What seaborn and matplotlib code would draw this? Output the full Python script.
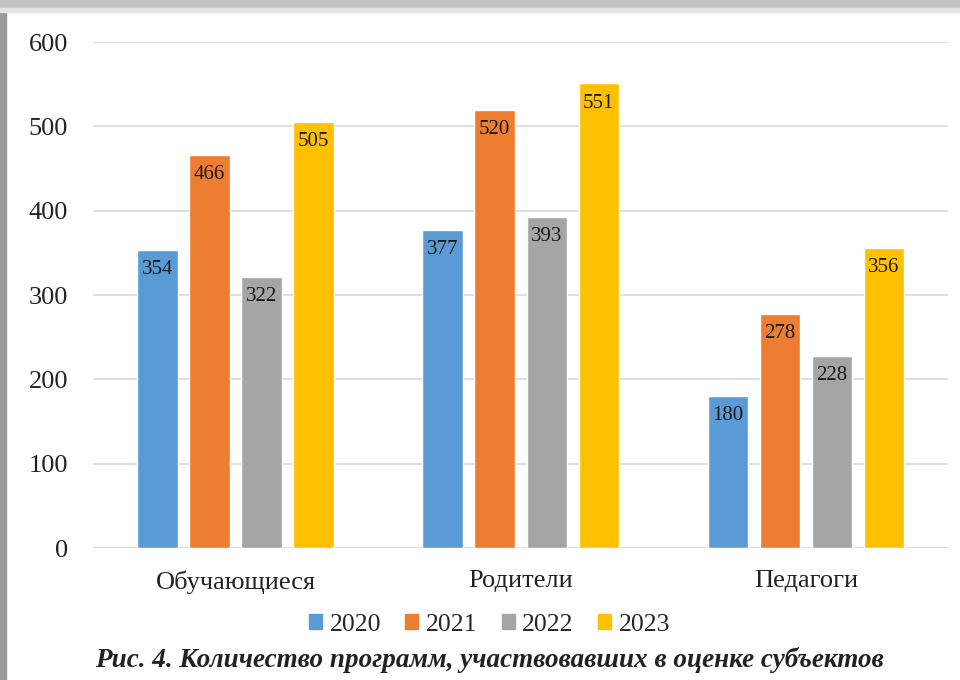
import matplotlib
matplotlib.use("Agg")
import matplotlib.pyplot as plt
import seaborn as sns
import pandas as pd
from matplotlib.patches import Rectangle

# данные
groups = ["Обучающиеся", "Родители", "Педагоги"]
years = ["2020", "2021", "2022", "2023"]
v2020 = [354, 377, 180]
v2021 = [466, 520, 278]
v2022 = [322, 393, 228]
v2023 = [505, 551, 356]
colors = ["#5B9BD5", "#ED7D31", "#A5A5A5", "#FFC000"]

rows = []
for yr, vals in zip(years, [v2020, v2021, v2022, v2023]):
	for g, v in zip(groups, vals):
		rows.append({"group": g, "year": yr, "value": v})
df = pd.DataFrame(rows)

sns.set_style("white")
plt.rcParams['font.family'] = ['Liberation Serif', 'DejaVu Serif']

fig = plt.figure(figsize=(9.6, 6.8), dpi=100)
ax = fig.add_axes([0.097, 0.194, 0.891, 0.744])

sns.barplot(data=df, x="group", y="value", hue="year", palette=colors,
	order=groups, hue_order=years, width=0.73, gap=0.22, saturation=1,
	ax=ax, legend=False)

ax.set_ylim(0, 600)
ax.set_yticks(range(0, 601, 100))
ax.yaxis.grid(True, color="#d9d9d9", linewidth=1.2)
ax.set_axisbelow(True)
for s in ["top", "right", "left", "bottom"]:
	ax.spines[s].set_visible(False)
ax.axhline(0, color="#d9d9d9", linewidth=1.2, zorder=0)
ax.set_xlabel("")
ax.set_ylabel("")
ax.tick_params(axis="both", length=0, labelsize=19, colors="#222222")
ax.tick_params(axis="y", pad=18)
ax.tick_params(axis="x", pad=16)
ax.set_xlim(-0.5, 2.5)

for cont in ax.containers:
	ax.bar_label(cont, label_type="edge", padding=-21, fontsize=15, color="#1a1a1a")

# легенда
handles = [Rectangle((0, 0), 1, 1, color=c) for c in colors]
fig.legend(handles, years, loc="center", bbox_to_anchor=(0.51, 0.081), ncol=4,
	frameon=False, fontsize=18.5, handlelength=0.5, handleheight=0.5,
	handletextpad=0.3, columnspacing=0.95)

fig.text(0.51, 0.029, "Рис. 4. Количество программ, участвовавших в оценке субъектов",
	ha="center", va="center", fontsize=19.5, style="italic", fontweight="bold", color="#222222")

# рамка
fig.patches.append(Rectangle((0, 0), 0.006, 1, transform=fig.transFigure, color="#9a9a9a", zorder=10))
fig.patches.append(Rectangle((0, 0.988), 1, 0.012, transform=fig.transFigure, color="#c4c4c4", zorder=10))
fig.patches.append(Rectangle((0, 0.982), 1, 0.006, transform=fig.transFigure, color="#e4e4e4", zorder=10))

fig.savefig("out.png", dpi=100)
